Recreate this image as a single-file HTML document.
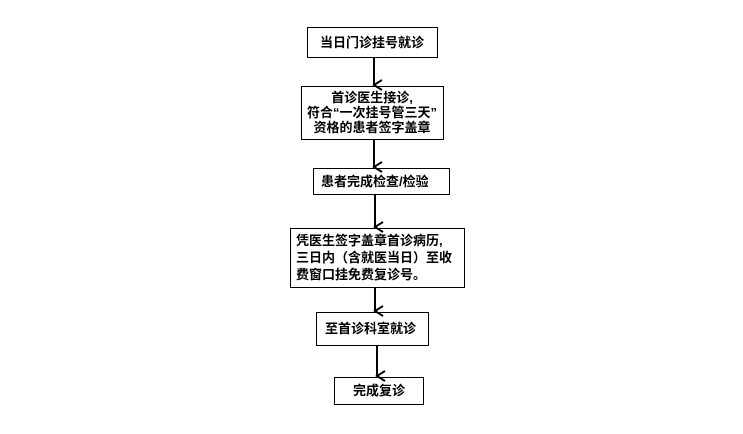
<!DOCTYPE html>
<html><head><meta charset="utf-8"><style>
html,body{margin:0;padding:0;background:#fff;width:743px;height:434px;overflow:hidden}
svg text{font-family:"Liberation Sans","Noto Sans CJK SC",sans-serif;font-size:13px;font-weight:bold;fill:#000}
</style></head><body>
<svg width="743" height="434" viewBox="0 0 743 434" xmlns="http://www.w3.org/2000/svg">
<defs><marker id="a" markerWidth="12" markerHeight="12" refX="6" refY="10" orient="auto" markerUnits="userSpaceOnUse">
<path d="M1,2 L6,10 L11,2" fill="none" stroke="#000" stroke-width="2"/></marker></defs>
<g fill="none" stroke="#000" stroke-width="1">
<rect x="307.5" y="27.5" width="130" height="30"/>
<rect x="301.5" y="86.5" width="142" height="53"/>
<rect x="313.5" y="168.5" width="136" height="26"/>
<rect x="290.5" y="228.5" width="174" height="59"/>
<rect x="316.5" y="312.5" width="112" height="33"/>
<rect x="334.5" y="377.5" width="89" height="27"/>
</g>
<g stroke="#000" stroke-width="2" marker-end="url(#a)">
<line x1="374" y1="58" x2="374" y2="85"/>
<line x1="374" y1="140" x2="374" y2="167"/>
<line x1="375" y1="195" x2="375" y2="227"/>
<line x1="375" y1="288" x2="375" y2="311"/>
<line x1="377" y1="346" x2="377" y2="376"/>
</g>
<text x="372" y="47" text-anchor="middle">当日门诊挂号就诊</text>
<text x="372" y="102" text-anchor="middle">首诊医生接诊,</text>
<text x="372" y="117" text-anchor="middle">符合“一次挂号管三天”</text>
<text x="372" y="132" text-anchor="middle">资格的患者签字盖章</text>
<text x="321" y="186">患者完成检查/检验</text>
<text x="296" y="245">凭医生签字盖章首诊病历,</text>
<text x="296" y="262">三日内（含就医当日）至收</text>
<text x="296" y="279">费窗口挂免费复诊号。</text>
<text x="325" y="333">至首诊科室就诊</text>
<text x="379" y="395" text-anchor="middle">完成复诊</text>
</svg>
</body></html>
